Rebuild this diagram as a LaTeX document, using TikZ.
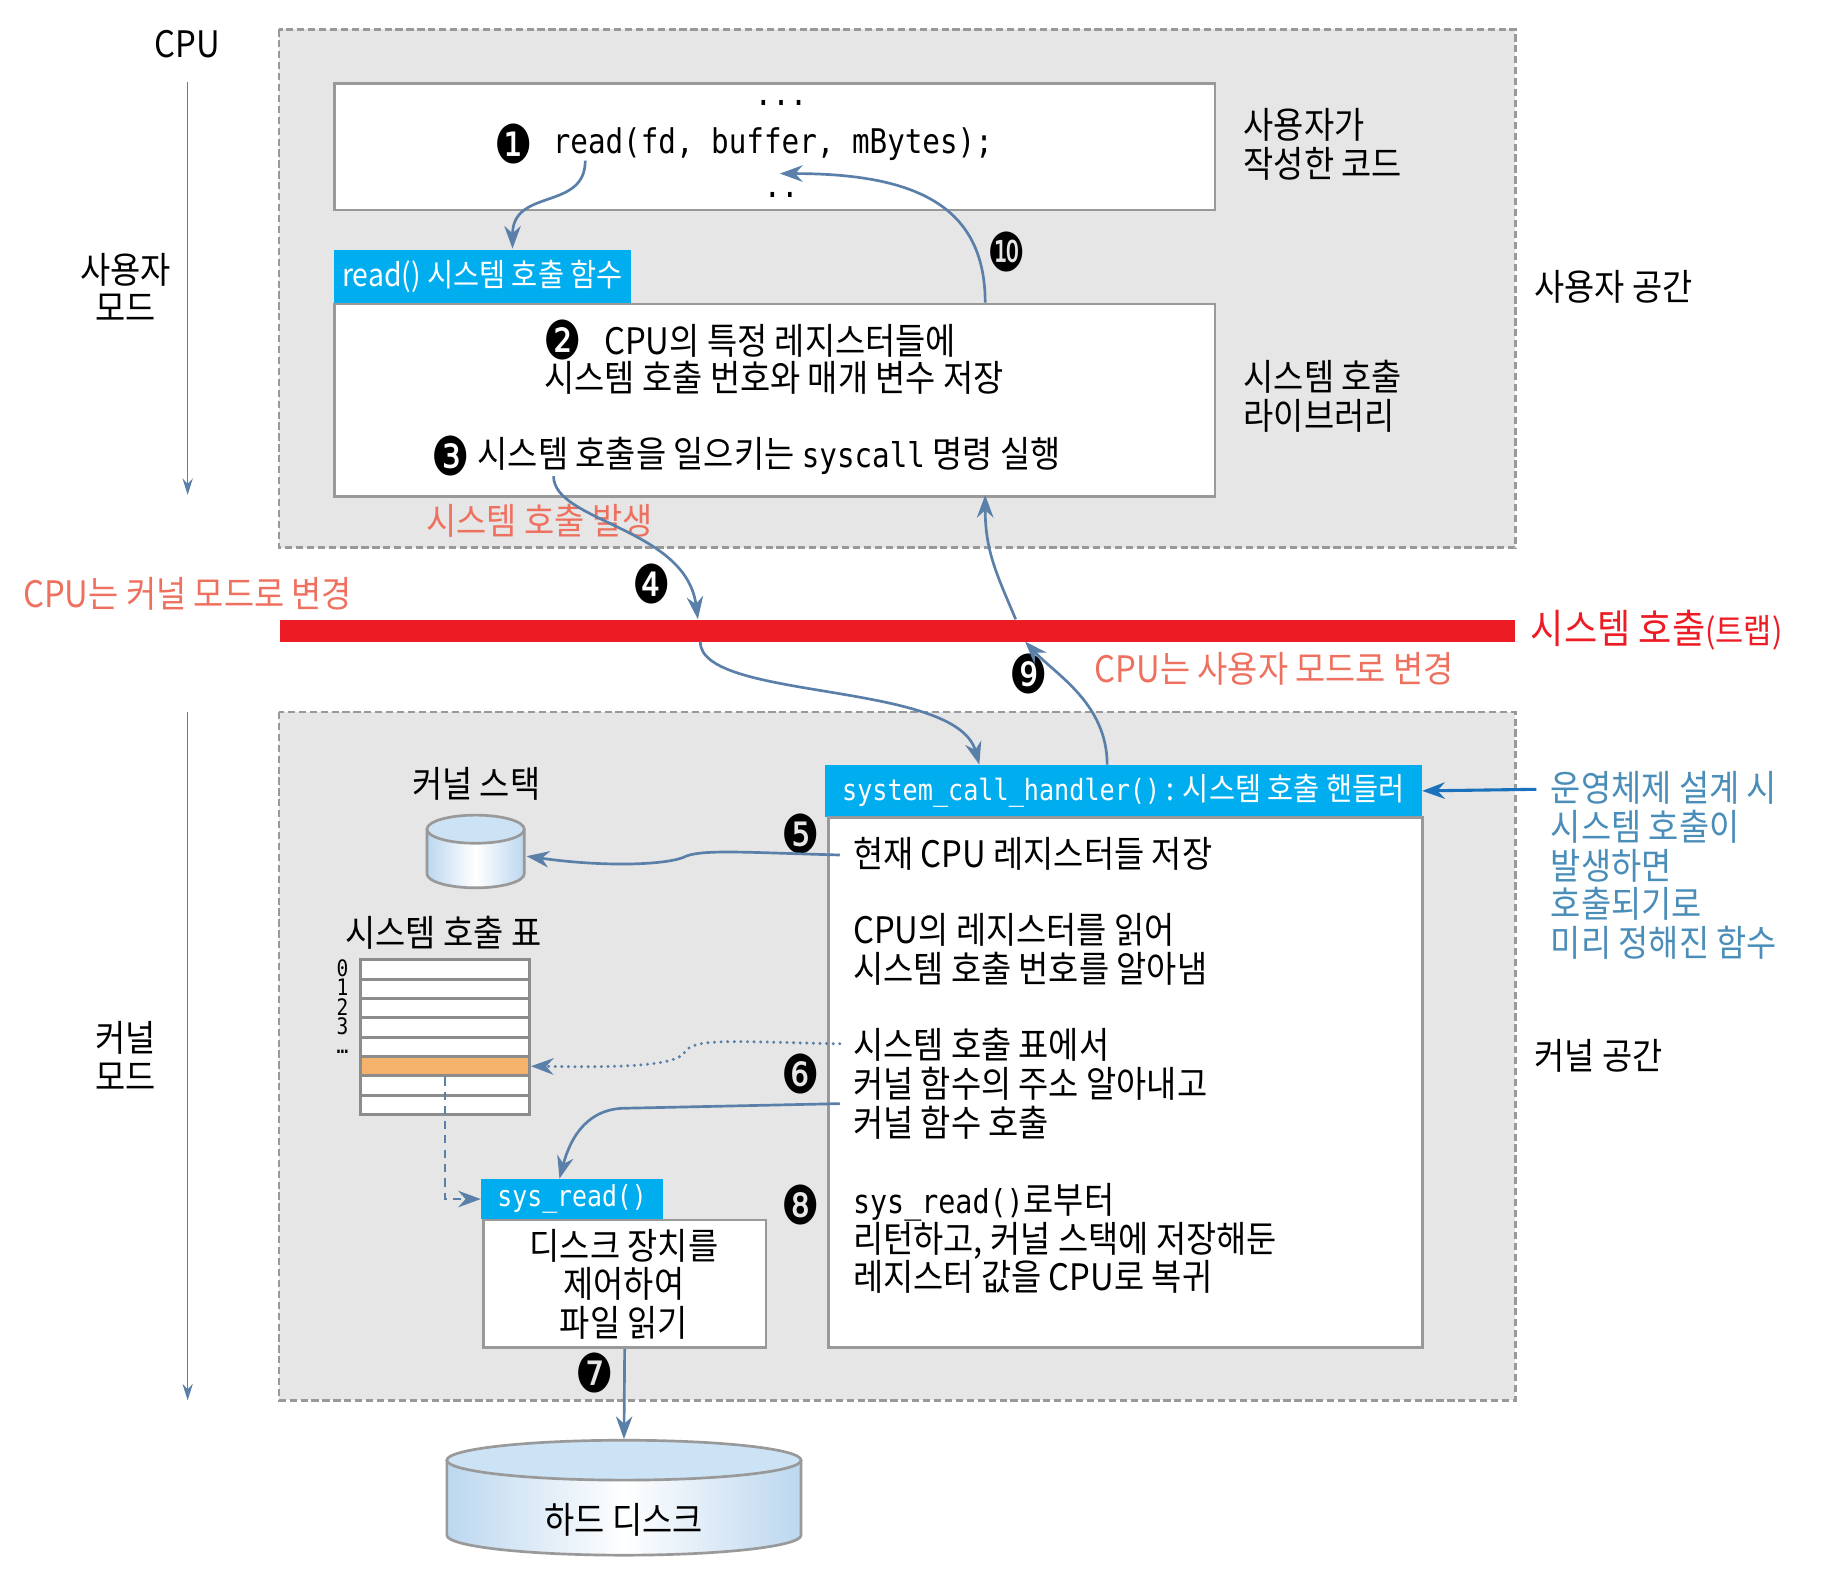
\documentclass[tikz,border=0pt]{standalone}
\usepackage{fontspec}
\setmainfont{Noto Sans CJK KR}[FakeStretch=0.9]
\newfontfamily\codefont{DejaVu Sans Mono}[FakeStretch=0.86]
\newfontfamily\numfont{DejaVu Sans}[FakeStretch=0.8]
\usepackage{tikz}
\usetikzlibrary{calc,arrows.meta}
\definecolor{tabblue}{HTML}{00AEEF}
\definecolor{linkblue}{HTML}{5A7FA8}
\definecolor{noteblue}{HTML}{4A8DB8}
\definecolor{notearrow}{HTML}{1A72BD}
\definecolor{salmon}{HTML}{EE7160}
\definecolor{trapred}{HTML}{ED1C24}
\definecolor{areagray}{HTML}{E6E6E6}
\definecolor{edgegray}{HTML}{999999}
\definecolor{tblgray}{HTML}{8C8C8C}
\definecolor{rowpick}{HTML}{F5B26B}
\definecolor{drumtop}{HTML}{CCE2F5}
\definecolor{drumside}{HTML}{BCD7EF}
% drum: (centre x, top y)(x radius:y radius:height), in picture units
\def\drum(#1,#2)(#3:#4:#5){%
	\shade[left color=drumside, right color=drumside, middle color=white] (#1-#3,#2) -- (#1-#3,#2+#5) arc (180:360:#3*0.02cm and #4*0.02cm) -- (#1+#3,#2) -- cycle;
	\draw[draw=edgegray, line width=1.3pt] (#1-#3,#2) -- (#1-#3,#2+#5) arc (180:360:#3*0.02cm and #4*0.02cm) -- (#1+#3,#2);
	\draw[draw=edgegray, line width=1.3pt, fill=drumtop] (#1,#2) ellipse (#3*0.02cm and #4*0.02cm);}
\tikzset{
	area/.style={draw=edgegray, fill=areagray, line width=1.3pt, dash pattern=on 3.5pt off 1.8pt},
	box/.style={draw=edgegray, fill=white, line width=1.3pt, inner sep=0pt, anchor=north west},
	tab/.style={fill=tabblue, text=white, inner sep=0pt, anchor=north west, font=\fontsize{15.3}{18}\selectfont},
	txt/.style={font=\fontsize{17.7}{18.8}\selectfont, inner sep=0pt},
	code/.style={font=\codefont\fontsize{16.5}{18.8}\selectfont, inner sep=0pt},
	dotrow/.style={code, text height=2pt, text depth=0pt, anchor=base},
	idx/.style={font=\codefont\fontsize{11}{9.36}\selectfont, inner sep=0pt, align=center, anchor=north},
	stepnum/.style={font=\numfont\fontsize{26}{26}\selectfont, inner sep=0pt},
	tblrow/.style={draw=tblgray, line width=1.5pt, minimum width=2.88cm, minimum height=0.33cm, inner sep=0pt, anchor=north west},
	link/.style={draw=linkblue, line width=1.3pt, -{Stealth[length=11pt,width=8pt]}},
	modeline/.style={draw=linkblue, line width=0.6pt, -{Stealth[length=8pt,width=5pt]}},
}

\begin{document}
\begin{tikzpicture}[x=0.02cm, y=-0.02cm]
		%%%%% START %%%%%
		\useasboundingbox (0,0) rectangle (1568,1344);
		
		\draw[area] (238,25) rectangle (1292,467);
		\draw[area] (238,607) rectangle (1292,1194);
		
		% CPU side
		\node[txt] (cpu) at (160,38) {CPU};
		\node[txt, align=center] (usermode) at (107,245) {사용자\\모드};
		\node[txt, align=center] (kernmode) at (107,900) {커널\\모드};
		\coordinate (cpuA) at (160,70);
		\coordinate (cpuB) at (160,422);
		\coordinate (cpuC) at (160,607);
		\coordinate (cpuD) at (160,1194);
		\draw[modeline] (cpuA) -- (cpuB);
		\draw[modeline] (cpuC) -- (cpuD);
		
		% user code
		\node[box, minimum width=15.02cm, minimum height=2.16cm] (userbox) at (284,70) {};
		\node[dotrow] (dotsA) at (666,90) {...};
		\node[stepnum] (s1) at (438,123) {❶};
		\node[code, anchor=west] (readcall) at (471,123) {read(fd, buffer, mBytes);};
		\node[dotrow] (dotsB) at (666,168) {..};
		\node[txt, align=left, anchor=west] (usercode) at (1060,123) {사용자가\\작성한 코드};
		
		% library
		\node[tab, minimum width=5.08cm, minimum height=0.9cm] (readtab) at (284,213) {read() 시스템 호출 함수};
		\node[box, minimum width=15.02cm, minimum height=3.28cm] (libbox) at (284,258) {};
		\node[txt, anchor=base west, text depth=2pt] (libA) at (461,302) {\hspace*{1pt}\raisebox{-2.5pt}{\numfont\fontsize{26}{18.8}\selectfont ❷}\hspace{11pt}CPU의 특정 레지스터들에};
		\node[txt, anchor=base, text height=13pt] (libB) at (660,334) {시스템 호출 번호와 매개 변수 저장};
		\node[stepnum] (s3) at (384,389) {❸};
		\node[txt, anchor=west] (libC) at (407,389) {시스템 호출을 일으키는 {\codefont\fontsize{16.5}{18.8}\selectfont syscall} 명령 실행};
		\node[txt, align=left, anchor=west] (libname) at (1060,338) {시스템 호출\\라이브러리};
		\node[txt, anchor=west] (userspace) at (1308,245) {사용자 공간};
		
		% trap
		\node[txt, text=salmon] (trapon) at (460,444) {시스템 호출 발생};
		\node[txt, text=salmon] (tokern) at (160,506) {CPU는 커널 모드로 변경};
		\node[stepnum] (s4) at (556,498) {❹};
		\node[fill=trapred, minimum width=21.08cm, minimum height=0.38cm, inner sep=0pt, anchor=north west] (trapbar) at (238,528) {};
		\node[txt, text=trapred, anchor=west, font=\fontsize{19.5}{20}\selectfont] (trapname) at (1305,537) {시스템 호출\fontsize{16.5}{16.5}\selectfont(트랩)};
		\node[stepnum] (s9) at (877,575) {❾};
		\node[txt, text=salmon, anchor=west] (touser) at (933,570) {CPU는 사용자 모드로 변경};
		\node[stepnum] (s10) at (858,215) {❿};
		
		% kernel stack and table
		\node[txt] (kstackname) at (406,668) {커널 스택};
		\drum(405.5,707)(41.5:12:38)
		\coordinate (kstack) at (449,730);
		\node[txt] (tablename) at (378,795) {시스템 호출 표};
		\foreach \r/\c in {0/white,1/white,2/white,3/white,4/white,5/rowpick,6/white,7/white}
			\node[tblrow, fill=\c] (row\r) at (306,817+16.5*\r) {};
		\node[idx] (rowidx) at (292,818) {0\\1\\2\\3\\…};
		
		% handler
		\node[tab, minimum width=10.18cm, minimum height=0.88cm] (handtab) at (703,652) {{\codefont\fontsize{14.2}{14.2}\selectfont system\_call\_handler()} : 시스템 호출 핸들러};
		\node[box, minimum width=10.14cm, minimum height=9.04cm] (handbox) at (705,696) {};
		\node[txt, anchor=west] (hsave) at (727,728) {현재 CPU 레지스터들 저장};
		\node[txt, anchor=west, align=left] (hread) at (727,809.5) {CPU의 레지스터를 읽어\\시스템 호출 번호를 알아냄};
		\node[txt, anchor=west, align=left] (hcall) at (727,924) {시스템 호출 표에서\\커널 함수의 주소 알아내고\\커널 함수 호출};
		\node[txt, anchor=west, align=left] (hback) at (727,1056) {{\codefont\fontsize{16}{18.8}\selectfont sys\_read()}로부터\\리턴하고, 커널 스택에 저장해둔\\레지스터 값을 CPU로 복귀};
		\node[stepnum] (s5) at (683,711) {❺};
		\node[stepnum] (s6) at (683,916) {❻};
		\node[stepnum] (s8) at (683,1027) {❽};
		\node[txt, text=noteblue, anchor=west, align=left] (note) at (1322,738) {운영체제 설계 시\\시스템 호출이\\발생하면\\호출되기로\\미리 정해진 함수};
		\node[txt, anchor=west] (kernspace) at (1308,900) {커널 공간};
		
		% sys_read and disk
		\node[tab, font=\codefont\fontsize{14}{14}\selectfont, minimum width=3.1cm, minimum height=0.68cm] (sysread) at (410,1005) {sys\_read()};
		\node[box, minimum width=4.82cm, minimum height=2.18cm] (readbox) at (411,1039) {};
		\node[txt, align=center] (readjob) at (532,1095) {디스크 장치를\\제어하여\\파일 읽기};
		\node[stepnum] (s7) at (507,1171) {❼};
		\drum(532,1245)(151:17:64)
		\coordinate (disktop) at (532,1227);
		\node[txt] (disk) at (532,1296) {하드 디스크};
		
		% connectors
		\coordinate (from1) at (499,137);
		\coordinate (to1) at (437,212);
		\draw[link] (from1) .. controls (499,180) and (437,160) .. (to1);
		\coordinate (from4) at (472,406);
		\coordinate (bar4in) at (595,528);
		\coordinate (bar4out) at (597,547);
		\coordinate (to4) at (835,652);
		\draw[link] (from4) .. controls (472,445) and (585,450) .. (bar4in);
		\draw[link] (bar4out) .. controls (597,598) and (815,580) .. (to4);
		\coordinate (from9) at (944,652);
		\coordinate (bar9in) at (874,547);
		\coordinate (bar9out) at (866,528);
		\coordinate (to9) at (840,422);
		\draw[link] (from9) .. controls (944,600) and (900,575) .. (bar9in);
		\draw[link] (bar9out) .. controls (850,490) and (840,470) .. (to9);
		\coordinate (from10) at (840,258);
		\coordinate (to10) at (665,148);
		\draw[link] (from10) .. controls (840,175) and (780,148) .. (to10);
		\coordinate (from5) at (716,729);
		\draw[link] (from5) .. controls (640,727) and (600,724) .. (585,730) .. controls (572,737) and (520,740) .. (kstack);
		\coordinate (from6a) at (716,890);
		\draw[link, line width=1.6pt, line cap=round, dash pattern=on 0pt off 3.2pt] (from6a) .. controls (620,888) and (592,885) .. (584,897) .. controls (576,910) and (520,910) .. (row5.east);
		\coordinate (from6b) at (716,941);
		\coordinate (to6b) at (477,1005);
		\draw[link] (from6b) -- (530,945) .. controls (497,947) and (485,975) .. (to6b);
		\draw[link, line width=1pt, dash pattern=on 4pt off 3pt] (row5.south) |- (sysread.west);
		\draw[link] (readbox.south) -- (disktop);
		\coordinate (notefrom) at (1310,673);
		\draw[draw=notearrow, line width=1.5pt, -{Stealth[length=11pt,width=8pt]}] (notefrom) -- (handtab.east);
		
		%%%%% END %%%%%
	\end{tikzpicture}
\end{document}
